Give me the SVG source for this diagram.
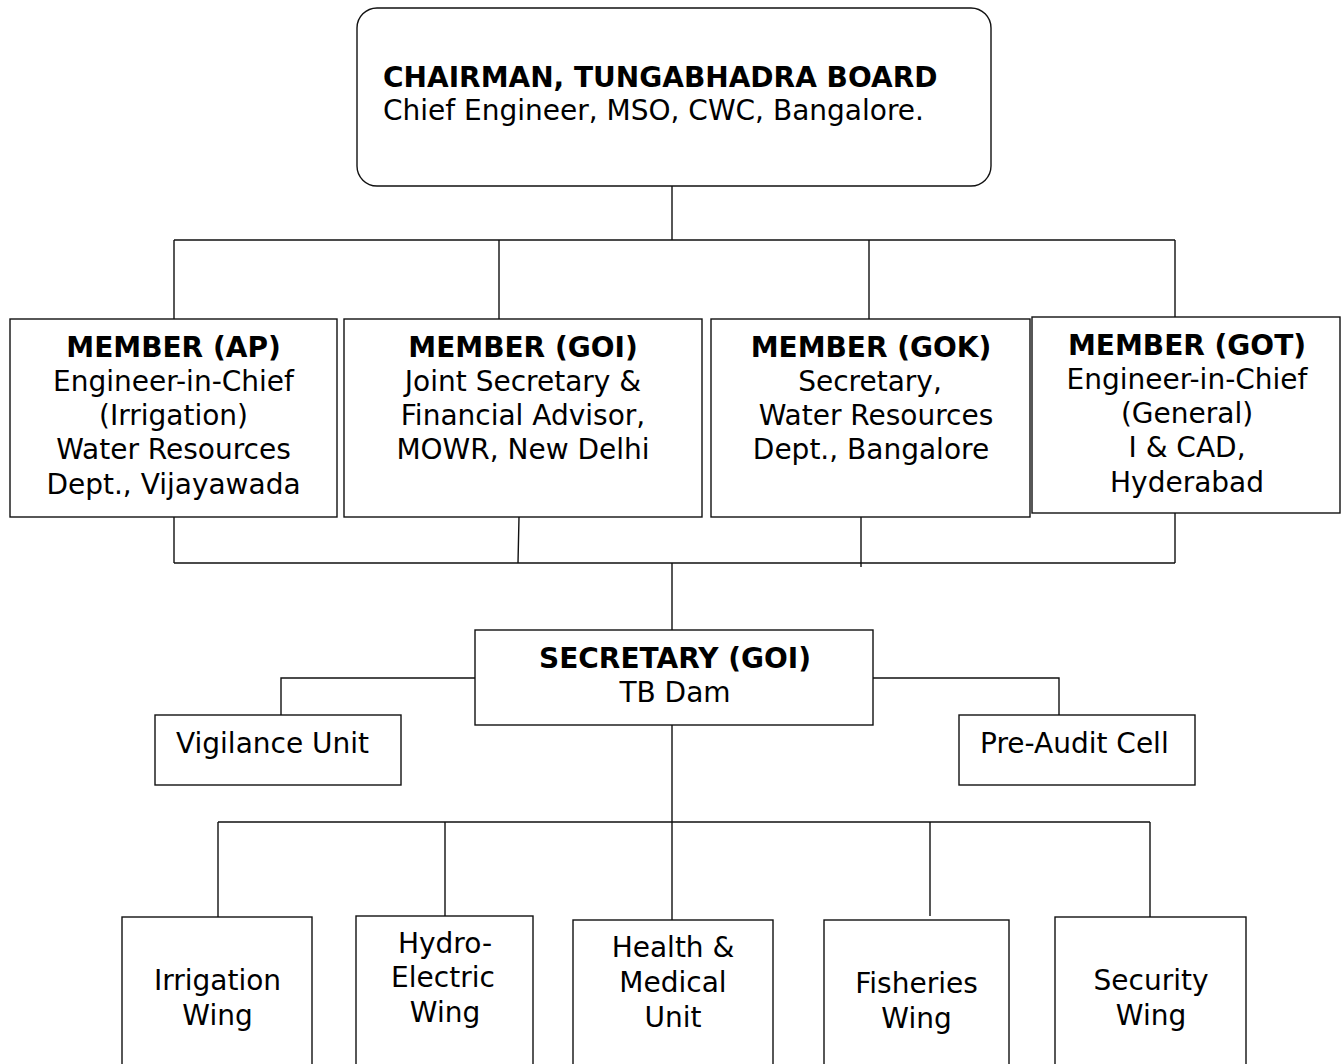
<svg xmlns="http://www.w3.org/2000/svg" width="1342" height="1064" viewBox="0 0 1342 1064">
<style>
.box{fill:#fff;stroke:#111;stroke-width:1.4}
.ln{fill:none;stroke:#111;stroke-width:1.4}
text{font-family:"DejaVu Sans",Verdana,sans-serif;font-size:28px;fill:#000}
.b{font-weight:bold}
.c{text-anchor:middle}
</style>
<rect width="1342" height="1064" fill="#fff"/>
<g id="connectors">
<path class="ln" d="M672,186 V240 M174,240 H1175 M174,240 V319 M499,240 V319 M869,240 V319 M1175,240 V318"/>
<path class="ln" d="M174,517 V563 M519,517 L518,563 M861,517 V567 M1175,513 V563 M174,563 H1175 M672,563 V630"/>
<path class="ln" d="M475,678 H281 V715 M873,678 H1059 V715"/>
<path class="ln" d="M672,725 V920 M218,822 H1150 M218,822 V917 M445,822 V916 M930,822 V916 M1150,822 V917"/>
</g>
<g id="chairman">
<rect class="box" x="357" y="8" width="634" height="178" rx="20"/>
<text class="b" x="383" y="87">CHAIRMAN, TUNGABHADRA BOARD</text>
<text x="383" y="120">Chief Engineer, MSO, CWC, Bangalore.</text>
</g>
<g id="member-ap">
<rect class="box" x="10" y="319" width="327" height="198"/>
<text class="b c" x="173.5" y="357">MEMBER (AP)</text>
<text class="c" x="173.5" y="391">Engineer-in-Chief</text>
<text class="c" x="173.5" y="425">(Irrigation)</text>
<text class="c" x="173.5" y="459">Water Resources</text>
<text class="c" x="173.5" y="494">Dept., Vijayawada</text>
</g>
<g id="member-goi">
<rect class="box" x="344" y="319" width="358" height="198"/>
<text class="b c" x="523" y="357">MEMBER (GOI)</text>
<text class="c" x="523" y="391">Joint Secretary &amp;</text>
<text class="c" x="523" y="425">Financial Advisor,</text>
<text class="c" x="523" y="459">MOWR, New Delhi</text>
</g>
<g id="member-gok">
<rect class="box" x="711" y="319" width="319" height="198"/>
<text class="b c" x="871" y="357">MEMBER (GOK)</text>
<text class="c" x="870" y="391">Secretary,</text>
<text class="c" x="876" y="425">Water Resources</text>
<text class="c" x="871" y="459">Dept., Bangalore</text>
</g>
<g id="member-got">
<rect class="box" x="1032" y="317" width="308" height="196"/>
<text class="b c" x="1187" y="355">MEMBER (GOT)</text>
<text class="c" x="1187" y="389">Engineer-in-Chief</text>
<text class="c" x="1187" y="423">(General)</text>
<text class="c" x="1187" y="457">I &amp; CAD,</text>
<text class="c" x="1187" y="492">Hyderabad</text>
</g>
<g id="secretary">
<rect class="box" x="475" y="630" width="398" height="95"/>
<text class="b c" x="675" y="668">SECRETARY (GOI)</text>
<text class="c" x="675" y="702">TB Dam</text>
</g>
<g id="vigilance">
<rect class="box" x="155" y="715" width="246" height="70"/>
<text x="176" y="753">Vigilance Unit</text>
</g>
<g id="pre-audit">
<rect class="box" x="959" y="715" width="236" height="70"/>
<text x="980" y="753">Pre-Audit Cell</text>
</g>
<g id="irrigation">
<rect class="box" x="122" y="917" width="190" height="160"/>
<text class="c" x="217.5" y="990">Irrigation</text>
<text class="c" x="217.5" y="1025">Wing</text>
</g>
<g id="hydro">
<rect class="box" x="356" y="916" width="177" height="160"/>
<text class="c" x="445" y="953">Hydro-</text>
<text class="c" x="443" y="987">Electric</text>
<text class="c" x="445" y="1022">Wing</text>
</g>
<g id="health">
<rect class="box" x="573" y="920" width="200" height="160"/>
<text class="c" x="673" y="957">Health &amp;</text>
<text class="c" x="673" y="992">Medical</text>
<text class="c" x="673" y="1027">Unit</text>
</g>
<g id="fisheries">
<rect class="box" x="824" y="920" width="185" height="160"/>
<text class="c" x="916.5" y="993">Fisheries</text>
<text class="c" x="916.5" y="1028">Wing</text>
</g>
<g id="security">
<rect class="box" x="1055" y="917" width="191" height="160"/>
<text class="c" x="1151" y="990">Security</text>
<text class="c" x="1151" y="1025">Wing</text>
</g>
</svg>
